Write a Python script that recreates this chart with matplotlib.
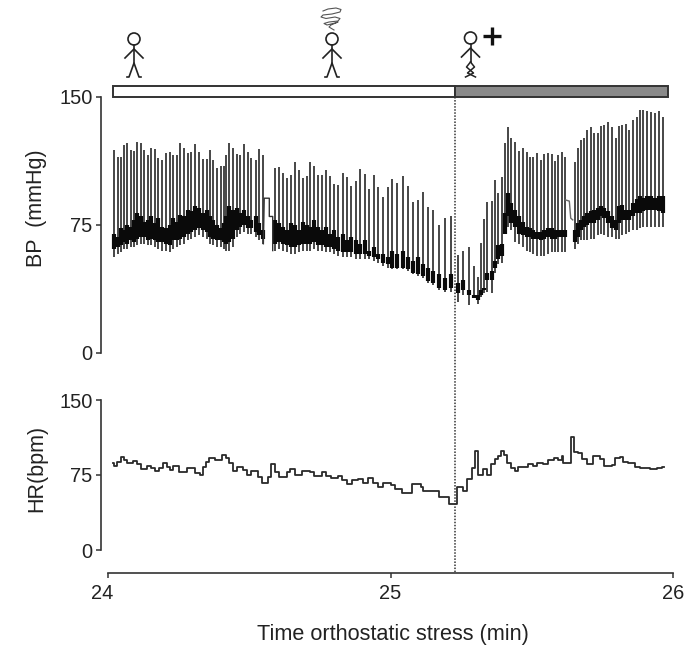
"""
plot.py - orthostatic stress recording: beat to beat BP and HR around syncope.
"""

import matplotlib
matplotlib.use("Agg")
import matplotlib.pyplot as plt
from matplotlib.patches import Rectangle, Circle
from matplotlib.transforms import ScaledTranslation

plt.rcParams["font.family"] = ["Liberation Sans", "DejaVu Sans"]

INK = "#222222"

# minutes after 24:00, one entry per beat
beat_t = [
    .021, .035, .046, .055, .068, .080, .092, .104, .116, .127,
    .140, .152, .165, .178, .192, .204, .218, .231, .243, .255,
    .269, .282, .294, .308, .322, .335, .349, .361, .373, .385,
    .399, .412, .418, .430, .443, .455, .467, .481, .494, .507,
    .523, .536, .550,
    .591, .605, .621, .635, .648, .662, .676, .689, .703, .716,
    .729, .743, .758, .772, .786, .801, .815, .831, .846, .861,
    .878, .892, .910, .925, .940, .957, .975, .990,
    1.007, 1.024, 1.043, 1.062, 1.081, 1.096, 1.114, 1.134, 1.152, 1.173,
    1.193, 1.214,
    1.240, 1.258, 1.277, 1.295, 1.309, 1.321, 1.331, 1.343, 1.358, 1.370,
    1.382, 1.394,
    1.406, 1.415, 1.428, 1.441, 1.455, 1.468, 1.482, 1.495, 1.506, 1.520,
    1.532, 1.545, 1.558, 1.571, 1.583, 1.594, 1.607, 1.619,
    1.653, 1.664, 1.675, 1.685, 1.697, 1.709, 1.722, 1.734, 1.745, 1.757,
    1.770, 1.783, 1.797, 1.809, 1.821, 1.834, 1.846, 1.857, 1.872, 1.883,
    1.895, 1.907, 1.921, 1.936, 1.951, 1.966,
]
beat_sys = [
    119.0, 115.1, 115.1, 121.9, 122.9, 119.0, 118.6, 123.5, 123.3, 119.0,
    116.1, 120.0, 119.6, 114.1, 113.2, 117.1, 118.0, 116.1, 116.1, 122.9,
    120.0, 117.1, 117.5, 122.3, 118.0, 113.6, 113.6, 119.0, 112.8, 108.3,
    109.3, 109.6, 116.1, 123.3, 120.0, 116.7, 116.1, 122.5, 117.5, 114.1,
    113.2, 119.4, 116.1,
    108.6, 109.2, 105.3, 102.4, 104.4, 112.2, 107.3, 102.8, 103.8, 112.2,
    109.6, 104.4, 104.4, 107.3, 103.8, 99.1, 98.5, 105.3, 103.4, 97.9,
    100.5, 107.9, 104.9, 96.2, 104.4, 97.5, 91.3, 97.2,
    102.0, 99.5, 103.8, 98.1, 88.2, 89.7, 94.2, 85.4, 83.9, 75.1,
    79.0, 80.0,
    57.5, 60.0, 62.4, 51.1, 44.8, 64.3, 78.6, 88.7, 89.1, 101.4,
    94.0, 103.0,
    122.9, 132.3, 125.9, 123.9, 118.6, 120.0, 117.5, 114.7, 114.7, 117.1,
    113.2, 116.7, 117.1, 116.5, 112.6, 116.1, 117.5, 115.1,
    112.2, 120.0, 124.9, 125.9, 130.7, 132.7, 128.8, 128.8, 133.3, 133.7,
    135.6, 132.7, 125.9, 133.3, 133.7, 134.1, 130.7, 136.6, 138.5, 142.4,
    142.4, 141.9, 141.1, 140.5, 141.9, 138.5,
]
beat_dia = [
    56, 58, 59, 61, 61, 62, 62, 63, 64, 64,
    63, 63, 62, 61, 60, 60, 59, 61, 62, 63,
    64, 66, 67, 68, 69, 68, 67, 64, 63, 62,
    62, 61, 60, 60, 62, 68, 70, 71, 70, 70,
    68, 66, 64,
    60, 61, 60, 59, 58, 58, 59, 60, 60, 60,
    61, 60, 60, 59, 59, 58, 57, 56, 56, 56,
    55, 55, 55, 55, 54, 53, 51, 50,
    49, 49, 49, 48, 46, 45, 44, 41, 40, 37,
    36, 36,
    30, 34, 28, 32, 29, 33, 35, 36, 35, 47,
    52, 53,
    70, 74, 72, 65, 64, 62, 60, 59, 58, 57,
    57, 57, 58, 59, 59, 59, 59, 59,
    61, 64, 66, 66, 66, 67, 67, 69, 70, 69,
    68, 68, 67, 67, 69, 70, 71, 72, 72, 73,
    74, 74, 74, 74, 74, 74,
]
# the dark lower part of each beat
beat_dark_hi = [
    70, 68, 73, 72, 75, 74, 78, 82, 80, 77,
    78, 80, 76, 79, 74, 73, 75, 79, 77, 81,
    80, 84, 83, 86, 85, 82, 84, 80, 78, 75,
    73, 76, 80, 86, 84, 85, 82, 84, 80, 78,
    80, 76, 72,
    78, 76, 74, 72, 76, 75, 72, 77, 75, 74,
    78, 74, 72, 74, 70, 72, 68, 70, 66, 68,
    66, 64, 66, 60, 62, 58, 58, 56,
    60, 58, 60, 56, 54, 56, 52, 50, 48, 46,
    44, 46,
    41, 43, 37, 34, 34, 37, 38, 47, 48, 54,
    63, 64,
    82, 94, 88, 84, 80, 77, 74, 73, 72, 71,
    71, 72, 73, 73, 72, 72, 72, 72,
    72, 76, 78, 80, 82, 83, 84, 85, 86, 85,
    83, 80, 78, 86, 87, 84, 84, 88, 90, 92,
    91, 92, 92, 91, 92, 92,
]
beat_dark_lo = [
    61, 62, 63, 65, 64, 66, 65, 67, 68, 68,
    66, 67, 66, 65, 65, 64, 63, 66, 66, 67,
    68, 70, 71, 72, 73, 72, 71, 68, 67, 66,
    66, 65, 64, 65, 67, 72, 74, 75, 73, 73,
    71, 69, 67,
    64, 65, 64, 63, 62, 62, 63, 64, 64, 64,
    65, 63, 63, 62, 62, 61, 60, 59, 59, 59,
    58, 58, 58, 57, 56, 55, 53, 52,
    50, 50, 50, 49, 47, 46, 45, 42, 41, 38,
    37, 38,
    35, 37, 34, 32, 31, 34, 37, 43, 43, 50,
    55, 57,
    70, 80, 76, 74, 70, 69, 68, 68, 67, 67,
    66, 67, 68, 67, 67, 68, 68, 68,
    65, 68, 72, 74, 75, 76, 76, 78, 80, 79,
    76, 73, 72, 76, 78, 78, 78, 80, 82, 82,
    83, 84, 84, 84, 83, 82,
]

# the two short calibration steps between beats
cal1_t = [.550, .553, .571, .571, .583, .583]
cal1_bp = [64, 90.7, 90.7, 80, 80, 60]
cal2_t = [1.619, 1.633, 1.638, 1.645]
cal2_bp = [89.7, 89, 79, 78]

hr_t = [
    .017, .021, .033, .045, .057, .066, .090, .104, .116, .139,
    .153, .166, .181, .194, .208, .219, .231, .253, .281, .308,
    .326, .335, .347, .359, .379, .402, .418, .430, .441, .455,
    .477, .491, .505, .532, .546, .565, .577, .591, .607, .632,
    .644, .662, .688, .715, .729, .756, .771, .788, .815, .830,
    .845, .863, .886, .904, .922, .937, .957, .975,
    1.001, 1.016, 1.040, 1.077, 1.107, 1.116, 1.170, 1.207, 1.237, 1.256,
    1.272, 1.287, 1.299, 1.311, 1.326, 1.341, 1.355, 1.370, 1.382, 1.390,
    1.402, 1.411, 1.426, 1.441, 1.453, 1.488, 1.506, 1.518, 1.541, 1.559,
    1.577, 1.594, 1.606, 1.612, 1.638, 1.650, 1.665, 1.677, 1.695, 1.718,
    1.742, 1.754, 1.783, 1.795, 1.813, 1.824, 1.842, 1.866, 1.883, 1.919,
    1.942, 1.960, 1.968,
]
hr_bpm = [
    87.3, 84, 88.3, 92.7, 90, 86.7, 89.3, 86, 81, 84,
    81.7, 79, 81.7, 86.7, 83.3, 80, 84, 78.3, 82.3, 76.7,
    75, 82.7, 88.3, 92.3, 90, 95, 91.7, 86.7, 79, 83.3,
    80, 75, 79, 72.7, 66.7, 72.7, 86, 78.3, 73.3, 78.3,
    81, 75, 79, 78.3, 74, 78.3, 74, 71.7, 74, 70,
    66, 70, 71, 66.7, 71.7, 67.3, 62.7, 66.7,
    65, 60.7, 56.7, 65.7, 63.3, 59.3, 52.7, 45.7, 63.3, 59,
    70.7, 81.7, 99, 75, 81, 75, 86, 90.7, 94.3, 99,
    95, 86.7, 81.7, 79, 83.3, 86, 84, 86.7, 86, 90,
    92.3, 90, 94, 86.7, 112.7, 98.3, 96.7, 91, 85.7, 94.3,
    91, 84, 85, 91.7, 92.7, 88.3, 87.3, 82.7, 81.7, 81,
    81.7, 82.7, 82.7,
]

bp_ticks = [0, 75, 150]
hr_ticks = [0, 75, 150]
time_ticks = [0, 1, 2]
time_labels = ["24", "25", "26"]
stress_onset = 1.228


def px_axes(fig, left, top, right, bottom):
    w, h = fig.get_size_inches() * fig.dpi
    return fig.add_axes([left / w, 1 - bottom / h, (right - left) / w, (bottom - top) / h])


def style_y(ax, ticks, label, label_y):
    ax.set_xlim(0, 2)
    ax.set_ylim(0, 150)
    ax.patch.set_visible(False)
    for s in ("top", "right", "bottom"):
        ax.spines[s].set_visible(False)
    ax.spines["left"].set_position(("outward", 5.2))
    ax.spines["left"].set_linewidth(1.2)
    ax.spines["left"].set_color("#333333")
    ax.set_yticks(ticks)
    ax.tick_params(axis="y", length=3.8, width=1.1, labelsize=14.4, color="#333333",
                   labelcolor=INK, pad=2)
    ax.set_ylabel(label, fontsize=15.5, color=INK)
    ax.yaxis.set_label_coords(-0.108, label_y)


def person(ov, cx, head_y, crossed=False):
    ov.add_patch(Circle((cx, head_y), 6, fill=False, ec=INK, lw=1.2))
    ov.plot([cx, cx], [head_y + 6, head_y + 24], color=INK, lw=1.2)
    ov.plot([cx - 9, cx, cx + 9], [head_y + 19, head_y + 10, head_y + 19], color=INK, lw=1.2)
    if crossed:
        ov.plot([cx, cx - 4, cx + 3, cx - 5], [head_y + 24, head_y + 29, head_y + 35, head_y + 39],
                color=INK, lw=1.1)
        ov.plot([cx, cx + 4, cx - 3, cx + 5], [head_y + 24, head_y + 29, head_y + 35, head_y + 39],
                color=INK, lw=1.1)
    else:
        ov.plot([cx - 7, cx - 5, cx, cx + 5, cx + 7],
                [head_y + 38, head_y + 38, head_y + 24, head_y + 38, head_y + 38],
                color=INK, lw=1.2)


fig = plt.figure(figsize=(6.97, 6.48), dpi=100)

# ── BP panel ────────────────────────────────────────────────────────────
ax_bp = px_axes(fig, 108, 97, 673, 353)
style_y(ax_bp, bp_ticks, "BP  (mmHg)", 0.566)
ax_bp.xaxis.set_visible(False)
ax_bp.vlines(beat_t, beat_dia, beat_sys, color="#383838", lw=1.3)
ax_bp.vlines(beat_t, beat_dark_lo, beat_dark_hi, color="#0a0a0a", lw=3.0)
ax_bp.plot(cal1_t, cal1_bp, color="#333333", lw=1.0)
ax_bp.plot(cal2_t, cal2_bp, color="#666666", lw=1.0)

# ── HR panel ────────────────────────────────────────────────────────────
ax_hr = px_axes(fig, 108, 400, 673, 550)
style_y(ax_hr, hr_ticks, "HR(bpm)", 0.543)
ax_hr.step(hr_t, hr_bpm, where="post", color="#2a2a2a", lw=1.3)
ax_hr.spines["bottom"].set_visible(True)
ax_hr.spines["bottom"].set_position(("outward", 16.5))
ax_hr.spines["bottom"].set_linewidth(1.2)
ax_hr.spines["bottom"].set_color("#333333")
ax_hr.set_xticks(time_ticks)
ax_hr.set_xticklabels(time_labels)
ax_hr.tick_params(axis="x", length=3.8, width=1.1, labelsize=14.4, color="#333333",
                  labelcolor=INK, pad=4)
# first time label sits a little left of its tick in the original
first = ax_hr.get_xticklabels()[0]
first.set_transform(first.get_transform() + ScaledTranslation(-6 / 100, 0, fig.dpi_scale_trans))
ax_hr.set_xlabel("Time orthostatic stress (min)", fontsize=15.6, color=INK)
ax_hr.xaxis.set_label_coords(0.504, -0.495)

# ── pixel overlay: state bar, onset line, stick figures ─────────────────
ov = fig.add_axes([0, 0, 1, 1])
ov.set_xlim(0, 697)
ov.set_ylim(648, 0)
ov.axis("off")
ov.patch.set_visible(False)

onset_px = 108 + stress_onset * 282.5
ov.add_patch(Rectangle((113, 86), onset_px - 113, 11, fc="white", ec="#333333", lw=1.4))
ov.add_patch(Rectangle((onset_px, 86), 668 - onset_px, 11, fc="#8a8a8a", ec="#333333", lw=1.4))
ov.plot([onset_px, onset_px], [97, 572], color="#333333", lw=1.1, ls=(0, (1, 1)))

person(ov, 134, 39)
person(ov, 332, 39)
person(ov, 470.5, 38, crossed=True)
ov.plot([483, 501], [35.5, 35.5], color="#111111", lw=2.4, solid_capstyle="butt")
ov.plot([492, 492], [27, 45], color="#111111", lw=2.4, solid_capstyle="butt")

swirl_x = [323, 328, 336, 341, 340, 332, 323, 321, 326, 335, 340, 338, 329, 324, 327, 335, 338, 331, 329, 334]
swirl_y = [11, 9, 8, 9.5, 12, 14, 15, 17, 18.5, 17, 18.5, 21, 22, 23.5, 25, 23, 22, 25, 27, 30]
ov.plot(swirl_x, swirl_y, color="#555555", lw=0.8)

plt.savefig("out.png", dpi=100)
